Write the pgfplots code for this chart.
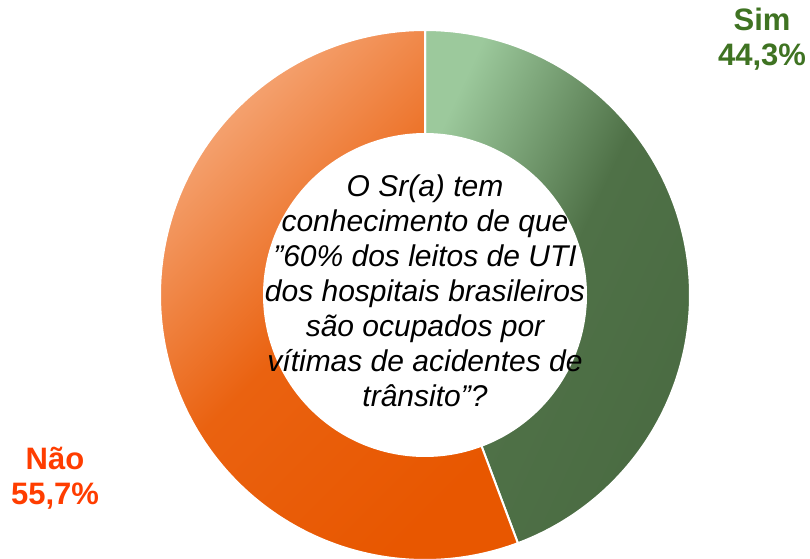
\documentclass[border=0pt]{standalone}
\usepackage{pgfplots}
\pgfplotsset{compat=1.18}
\usepackage{pgfplotstable}
\usepackage{fontspec}
\setmainfont{Liberation Sans}
\definecolor{simlight}{HTML}{9CC99C}
\definecolor{simmid}{HTML}{4F7147}
\definecolor{simdark}{HTML}{4A6B42}
\definecolor{naolight}{HTML}{F5A676}
\definecolor{naomid}{HTML}{EA6210}
\definecolor{naodark}{HTML}{E85700}
\definecolor{simtext}{HTML}{3F7322}
\definecolor{naotext}{HTML}{FF3D00}
\pgfplotstableread{
label value
Sim 44.3
Nao 55.7
}\donutdata
\begin{document}
\begin{tikzpicture}
\pgfplotstablegetelem{0}{value}\of\donutdata
\let\simv\pgfplotsretval
\pgfplotstablegetelem{1}{value}\of\donutdata
\let\naov\pgfplotsretval
\pgfmathsetmacro\simang{90-3.6*\simv}
\pgfmathsetmacro\naoang{90+3.6*\naov}
\begin{axis}[
  width=810pt, height=558pt, scale only axis,
  xmin=-425, xmax=385, ymin=-263, ymax=295,
  hide axis, clip=true,
]
% Sim slice
\addplot[domain=\simang:90, samples=160, draw=white, line width=2pt,
  top color=simlight, bottom color=simdark, middle color=simmid, shading angle=65]
  ({265*cos(x)},{265*sin(x)}) -- (axis cs:0,0) -- cycle;
% Nao slice
\addplot[domain=90:\naoang, samples=200, draw=white, line width=2pt,
  top color=naolight, bottom color=naodark, middle color=naomid, shading angle=45]
  ({265*cos(x)},{265*sin(x)}) -- (axis cs:0,0) -- cycle;
% hole
\addplot[domain=0:360, samples=240, fill=white, draw=none]
  ({162*cos(x)},{162*sin(x)}) -- cycle;
\node[align=center, inner sep=0pt, font=\fontsize{30}{35}\selectfont\itshape]
  at (axis cs:0,4) {O Sr(a) tem\\conhecimento de que\\\char34 60\% dos leitos de UTI\\dos hospitais brasileiros\\são ocupados por\\vítimas de acidentes de\\trânsito\char34 ?};
\node[align=center, inner sep=0pt, text=simtext, font=\fontsize{31}{35}\selectfont\bfseries]
  at (axis cs:337,256) {Sim\\44,3\%};
\node[align=center, inner sep=0pt, text=naotext, font=\fontsize{31}{35}\selectfont\bfseries]
  at (axis cs:-370,-183) {Não\\55,7\%};
\end{axis}
\pgfresetboundingbox
\path (0,0) rectangle (810pt,558pt);
\end{tikzpicture}
\end{document}
